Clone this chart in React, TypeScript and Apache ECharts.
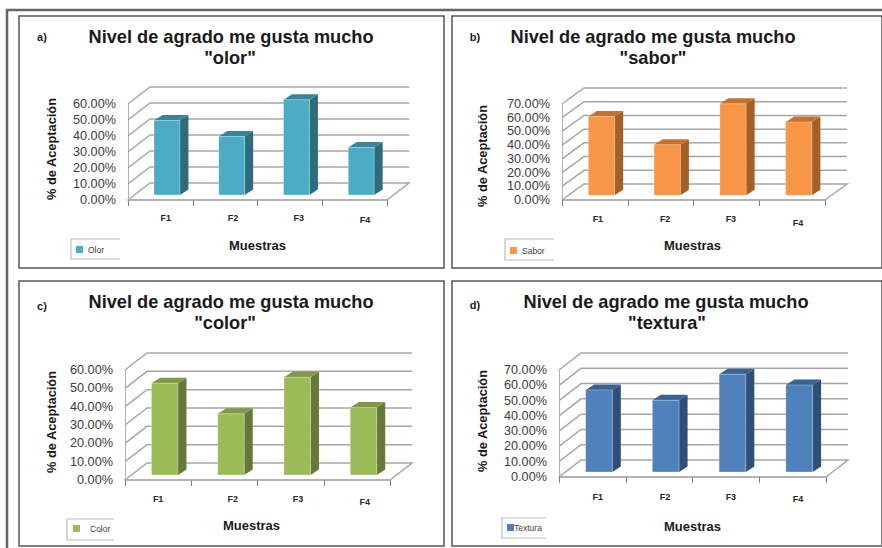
import React, { useEffect, useLayoutEffect, useRef } from "react";
import * as echarts from "echarts";

// Acceptance percentages per formulation
const categories = ["F1", "F2", "F3", "F4"];
const olorValues = [46.5, 36.5, 59.5, 29.7];
const saborValues = [57.4, 36.7, 66.6, 53.4];
const colorValues = [50, 33.3, 53.3, 36.7];
const texturaValues = [53.6, 46.9, 63.9, 56.9];
const ticksTo60 = [0, 10, 20, 30, 40, 50, 60];
const ticksTo70 = [0, 10, 20, 30, 40, 50, 60, 70];

const FONT = "'Liberation Sans', Arial, sans-serif";
const TITLE_LINE = "Nivel de agrado me gusta mucho";

const panels = [
  {
    letter: "a)", attribute: '"olor"', series: "Olor", values: olorValues, ticks: ticksTo60,
    frame: [19, 16, 425, 252], grid: [128, 104, 259, 96], wall: [22, 17],
    titleX: 231, subX: 230, titleY: 37, letterPos: [42, 37],
    yNameGap: 70, yNamePad: [0, 0, 0, 6],
    xNameGap: 39, xNamePad: [0, 0, 0, 0], labelMargin: 13, labelPad: [11, 16, 18, 21], lastDrop: 2,
    legendBox: [71, 239, 49, 20], legendAt: [76, 246], legendGap: 0,
    fill: "#4BACC6", side: "#2E6B7C", top: "#36859A",
  },
  {
    letter: "b)", attribute: '"sabor"', series: "Sabor", values: saborValues, ticks: ticksTo70,
    frame: [452, 16, 430, 252], grid: [562, 104, 263, 96], wall: [22, 16],
    titleX: 653, subX: 653, titleY: 37, letterPos: [475, 37],
    yNameGap: 73, yNamePad: [0, 8, 0, 0],
    xNameGap: 39, xNamePad: [0, 2, 0, 0], labelMargin: 14, labelPad: [6, 9, 9, 12], lastDrop: 4,
    legendBox: [505, 239, 49, 21], legendAt: [510, 247], legendGap: 0,
    fill: "#F79646", side: "#A65F24", top: "#C4722E",
  },
  {
    letter: "c)", attribute: '"color"', series: "Color", values: colorValues, ticks: ticksTo60,
    frame: [19, 281, 425, 265], grid: [125, 370, 265, 110], wall: [22, 17],
    titleX: 231, subX: 225, titleY: 302, letterPos: [42, 306],
    yNameGap: 67, yNamePad: [0, 0, 0, 6],
    xNameGap: 39, xNamePad: [0, 12, 0, 0], labelMargin: 14, labelPad: [0, 17, 15, 16], lastDrop: 3,
    legendBox: [67, 519, 47, 21], legendAt: [73, 525], legendGap: 5,
    fill: "#9BBB59", side: "#657A39", top: "#7D9A45",
  },
  {
    letter: "d)", attribute: '"textura"', series: "Textura", values: texturaValues, ticks: ticksTo70,
    frame: [452, 281, 430, 265], grid: [559, 370, 267, 107], wall: [22, 17],
    titleX: 666, subX: 667, titleY: 302, letterPos: [475, 305],
    yNameGap: 70, yNamePad: [0, 0, 0, 5],
    xNameGap: 43, xNamePad: [0, 0, 0, 0], labelMargin: 15, labelPad: [11, 12, 10, 11], lastDrop: 2,
    legendBox: [502, 518, 44, 20], legendAt: [507, 524], legendGap: -5,
    fill: "#4F81BD", side: "#2F4F78", top: "#3A6291",
  },
];

const WALL_COLOR = "#A6A6A6";

// Back wall and floor: each tick runs diagonally from the front axis, then along the wall
function renderWall(wall: number[]) {
  return (params: any, api: any) => {
    const cs = params.coordSys;
    const tick = api.value(1);
    const y = api.coord([0, tick])[1];
    const x0 = cs.x;
    const x1 = cs.x + cs.width;
    const points = [[x0, y], [x0 + wall[0], y - wall[1]], [x1 + wall[0], y - wall[1]]];
    if (tick === 0) points.push([x1, y]);
    return {
      type: "polyline",
      shape: { points },
      style: { stroke: WALL_COLOR, lineWidth: 1.5, fill: "none" },
      silent: true,
    };
  };
}

// Prism bar: front face plus its shaded side and top, set partway into the floor
function renderBar(p: (typeof panels)[number]) {
  return (_params: any, api: any) => {
    const band = api.size([1, 0])[0];
    const w = band * 0.4;
    const ox = p.wall[0] * 0.3;
    const oy = p.wall[1] * 0.3;
    const base = api.coord([api.value(0), 0]);
    const head = api.coord([api.value(0), api.value(1)]);
    const l = base[0] + ox - w / 2;
    const r = l + w;
    const b = base[1] - oy;
    const t = head[1] - oy;
    const dx = 8.5;
    const dy = 5.5;
    return {
      type: "group",
      children: [
        { type: "polygon", shape: { points: [[r, t], [r + dx, t - dy], [r + dx, b - dy], [r, b]] }, style: { fill: p.side } },
        { type: "polygon", shape: { points: [[l, t], [l + dx, t - dy], [r + dx, t - dy], [r, t]] }, style: { fill: p.top } },
        { type: "rect", shape: { x: l, y: t, width: w, height: b - t }, style: { fill: p.fill, stroke: "rgba(255,255,255,0.45)", lineWidth: 0.6 } },
      ],
    };
  };
}

function buildOption() {
  const grid: any[] = [];
  const xAxis: any[] = [];
  const yAxis: any[] = [];
  const series: any[] = [];
  const title: any[] = [];
  const legend: any[] = [];
  const graphic: any[] = [
    {
      type: "polyline",
      shape: { points: [[7, 548], [7, 10], [882, 10]] },
      style: { stroke: "#666666", lineWidth: 2.5, fill: "none" },
      z: 0,
    },
  ];

  panels.forEach((p, i) => {
    const [fx, fy, fw, fh] = p.frame;
    graphic.push({
      type: "rect",
      shape: { x: fx, y: fy, width: fw, height: fh },
      style: { fill: "#FFFFFF", stroke: "#555555", lineWidth: 1.5 },
      z: 0,
    });
    const [bx, by, bw, bh] = p.legendBox;
    graphic.push({
      type: "polyline",
      shape: { points: [[bx + bw, by], [bx, by], [bx, by + bh], [bx + bw, by + bh]] },
      style: { stroke: "#BDBDBD", lineWidth: 1.2, fill: "none" },
      z: 1,
    });
    graphic.push({
      type: "text",
      x: p.letterPos[0],
      y: p.letterPos[1],
      style: {
        text: p.letter, font: `bold 11px ${FONT}`, fill: "#1A1A1A",
        textAlign: "center", textVerticalAlign: "middle",
      },
      z: 5,
    });

    title.push({
      text: TITLE_LINE, left: p.titleX, top: p.titleY - 10, textAlign: "center", padding: 0,
      textStyle: { fontFamily: FONT, fontSize: 18.2, fontWeight: "bold", color: "#1A1A1A", lineHeight: 20 },
    });
    title.push({
      text: p.attribute, left: p.subX, top: p.titleY + 11, textAlign: "center", padding: 0,
      textStyle: { fontFamily: FONT, fontSize: 18.2, fontWeight: "bold", color: "#1A1A1A", lineHeight: 20 },
    });

    const [gx, gy, gw, gh] = p.grid;
    grid.push({ left: gx, top: gy, width: gw, height: gh });

    xAxis.push({
      type: "category",
      gridIndex: i,
      data: categories.map((value, c) => ({
        value,
        textStyle: { padding: [c === 3 ? p.lastDrop : 0, 0, 0, p.labelPad[c]] },
      })),
      name: "Muestras",
      nameLocation: "middle",
      nameGap: p.xNameGap,
      nameTextStyle: { fontFamily: FONT, fontSize: 13, fontWeight: "bold", color: "#1A1A1A", padding: p.xNamePad },
      axisLine: { show: true, lineStyle: { color: "#9A9A9A", width: 1.5 } },
      axisTick: { show: true, length: 6, lineStyle: { color: "#808080", width: 1 } },
      axisLabel: { interval: 0, margin: p.labelMargin, fontFamily: FONT, fontSize: 9, fontWeight: "bold", color: "#262626" },
      splitLine: { show: false },
    });

    yAxis.push({
      type: "value",
      gridIndex: i,
      min: 0,
      max: p.ticks[p.ticks.length - 1],
      interval: 10,
      name: "% de Aceptación",
      nameLocation: "middle",
      nameGap: p.yNameGap,
      nameRotate: 90,
      nameTextStyle: { fontFamily: FONT, fontSize: 12.8, fontWeight: "bold", color: "#1A1A1A", padding: p.yNamePad },
      axisLine: { show: true, lineStyle: { color: "#B0B0B0", width: 1 } },
      axisTick: { show: false },
      axisLabel: {
        margin: 12, fontFamily: FONT, fontSize: 12.7, color: "#3C3C3C",
        formatter: (v: number) => `${v.toFixed(2)}%`,
      },
      splitLine: { show: false },
    });

    series.push({
      type: "custom",
      name: `${p.series} pared`,
      xAxisIndex: i,
      yAxisIndex: i,
      silent: true,
      z: 1,
      renderItem: renderWall(p.wall),
      data: p.ticks.map((t) => [0, t]),
    });
    series.push({
      type: "custom",
      name: p.series,
      xAxisIndex: i,
      yAxisIndex: i,
      z: 3,
      itemStyle: { color: p.fill },
      renderItem: renderBar(p),
      data: p.values.map((v, c) => [c, v]),
    });

    legend.push({
      data: [p.series],
      left: p.legendAt[0],
      top: p.legendAt[1] - 1,
      padding: 0,
      itemWidth: 7,
      itemHeight: 7,
      icon: "rect",
      selectedMode: false,
      textStyle: {
        fontFamily: FONT, fontSize: 8.5, color: "#404040",
        padding: [0, 0, 0, p.legendGap],
      },
    });
  });

  return {
    animation: false,
    backgroundColor: "#FFFFFF",
    tooltip: { show: false },
    title,
    legend,
    grid,
    xAxis,
    yAxis,
    series,
    graphic,
  };
}

export default function App() {
  const ref = useRef<HTMLDivElement>(null);
  useLayoutEffect(() => {
    document.body.style.margin = "0";
  }, []);
  useEffect(() => {
    const chart = echarts.init(ref.current!, undefined, { renderer: "svg" });
    chart.setOption(buildOption() as any);
    return () => chart.dispose();
  }, []);
  return <div ref={ref} style={{ width: 882, height: 548 }} />;
}
